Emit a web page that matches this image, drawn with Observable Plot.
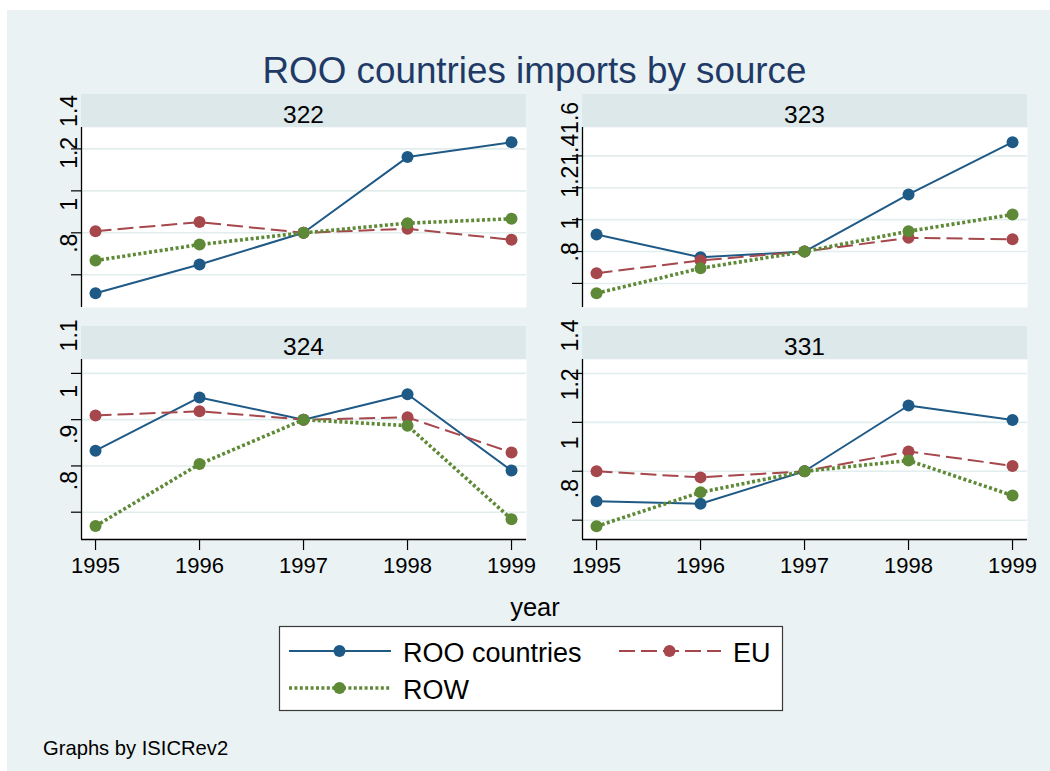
<!DOCTYPE html>
<html>
<head>
<meta charset="utf-8">
<script src="https://cdn.jsdelivr.net/npm/d3@7"></script>
<script src="https://cdn.jsdelivr.net/npm/@observablehq/plot@0.6"></script>
<style>
  body { margin: 0; background: #fff; }
  #page { position: relative; width: 1050px; height: 771px; overflow: hidden; font-family: "Liberation Sans", Arial, sans-serif; }
  #page > svg { position: absolute; overflow: visible; }
</style>
</head>
<body>
<div id="page"></div>
<script>
// Years on the x axis and the three import sources
const years = [1995, 1996, 1997, 1998, 1999];
const sources = ["ROO countries", "EU", "ROW"];
const industries = ["322", "323", "324", "331"];

// Imports by source, indexed to 1997 = 1, per ISIC Rev.2 industry
const roo322 = [0.712, 0.849, 1, 1.361, 1.432];
const eu322  = [1.008, 1.051, 1, 1.019, 0.967];
const row322 = [0.868, 0.944, 1, 1.046, 1.067];

const roo323 = [1.107, 0.964, 1, 1.358, 1.686];
const eu323  = [0.864, 0.944, 1, 1.086, 1.077];
const row323 = [0.738, 0.895, 1, 1.127, 1.232];

const roo324 = [0.933, 1.048, 1, 1.055, 0.890];
const eu324  = [1.009, 1.018, 1, 1.005, 0.929];
const row324 = [0.770, 0.904, 1, 0.987, 0.785];

const roo331 = [0.877, 0.867, 1, 1.269, 1.210];
const eu331  = [1.000, 0.975, 1, 1.081, 1.022];
const row331 = [0.775, 0.914, 1, 1.044, 0.901];

// y tick values per panel
const ticks322 = [0.8, 1, 1.2, 1.4];
const ticks323 = [0.8, 1, 1.2, 1.4, 1.6];
const ticks324 = [0.8, 0.9, 1, 1.1];
const ticks331 = [0.8, 1, 1.2, 1.4];

// Series appearance
const colors = ["#1f5a87", "#a6474c", "#5e8a37"];
const lineStyles = [
  {dash: null, width: 2},
  {dash: "16,6", width: 2},
  {dash: "3,2.4", width: 3.6}
];

const bg = "#eaf2f3";
const stripFill = "#dce8ea";
const font = "'Liberation Sans', Arial, sans-serif";
const xDomain = [1994.865, 1999.144];

// Stata-style tick labels: drop the leading zero
const fmt = d => String(+d.toFixed(2)).replace(/^0\./, ".");

const panels = [
  {id: industries[0], series: [roo322, eu322, row322], ticks: ticks322, yDomain: [0.644, 1.502], left: 30, top: 94, xAxis: false},
  {id: industries[1], series: [roo323, eu323, row323], ticks: ticks323, yDomain: [0.649, 1.778], left: 531, top: 94, xAxis: false},
  {id: industries[2], series: [roo324, eu324, row324], ticks: ticks324, yDomain: [0.741, 1.130], left: 30, top: 326, xAxis: true},
  {id: industries[3], series: [roo331, eu331, row331], ticks: ticks331, yDomain: [0.721, 1.457], left: 531, top: 326, xAxis: true}
];

const W = 500, mL = 51, mR = 4, mT = 33, frameH = 180;
const page = document.getElementById("page");

// Backdrop: graph region, title, panel strips, axis title, legend, note
const back = d3.create("svg").attr("width", 1050).attr("height", 771)
  .style("left", "0px").style("top", "0px").style("font-family", font);

back.append("rect").attr("x", 7).attr("y", 10).attr("width", 1043).attr("height", 761).attr("fill", bg);

back.append("text").attr("x", 534.5).attr("y", 82.5).attr("text-anchor", "middle")
  .attr("font-size", 36.8).attr("fill", "#1f3a66").text("ROO countries imports by source");

for (const p of panels) {
  const x0 = p.left + mL, w = W - mL - mR;
  back.append("rect").attr("x", x0).attr("y", p.top).attr("width", w).attr("height", mT).attr("fill", stripFill);
  back.append("text").attr("x", x0 + w / 2).attr("y", p.top + 29.3).attr("text-anchor", "middle")
    .attr("font-size", 24.5).attr("fill", "#000").text(p.id);
}

back.append("text").attr("x", 535).attr("y", 616).attr("text-anchor", "middle")
  .attr("font-size", 25.5).attr("fill", "#000").text("year");

// Legend
const lg = back.append("g");
lg.append("rect").attr("x", 279.5).attr("y", 626.5).attr("width", 503).attr("height", 84)
  .attr("fill", "#fff").attr("stroke", "#3a3a3a").attr("stroke-width", 1.2);
const legendPos = [{x: 289, y: 651, tx: 403}, {x: 619, y: 651, tx: 733}, {x: 289, y: 688, tx: 403}];
sources.forEach((s, k) => {
  const L = legendPos[k];
  lg.append("line").attr("x1", L.x).attr("x2", L.x + 102).attr("y1", L.y).attr("y2", L.y)
    .attr("stroke", colors[k]).attr("stroke-width", lineStyles[k].width)
    .attr("stroke-dasharray", lineStyles[k].dash);
  lg.append("circle").attr("cx", L.x + 50.5).attr("cy", L.y).attr("r", 6).attr("fill", colors[k]);
  lg.append("text").attr("x", L.tx).attr("y", L.y + 11).attr("font-size", 27)
    .attr("fill", "#000").text(s);
});

back.append("text").attr("x", 43).attr("y", 755).attr("font-size", 20.2).attr("fill", "#000").text("Graphs by ISICRev2");

page.appendChild(back.node());

// One Plot chart per industry, each with its own y scale
for (const p of panels) {
  const rows = [];
  p.series.forEach((vals, k) => vals.forEach((v, i) => rows.push({source: sources[k], year: years[i], value: v})));

  const marks = [
    Plot.frame({fill: "#fff", stroke: null}),
    Plot.gridY(p.ticks, {stroke: "#e2eded", strokeOpacity: 1, strokeWidth: 1.6}),
    Plot.axisY({ticks: p.ticks, tickSize: 10, tickFormat: () => "", label: null, stroke: "#000", strokeWidth: 1.2}),
    Plot.text(p.ticks, {
      y: d => d, text: fmt, frameAnchor: "left", rotate: -90,
      textAnchor: "start", lineAnchor: "bottom", dx: -5, dy: -22, fontSize: 23, fill: "#000"
    }),
    Plot.ruleX([xDomain[0]], {stroke: "#000", strokeWidth: 1.3})
  ];
  if (p.xAxis) {
    marks.push(
      Plot.ruleY([p.yDomain[0]], {stroke: "#000", strokeWidth: 1.3}),
      Plot.axisX({ticks: years, tickSize: 11, tickPadding: 7, tickFormat: "d", label: null,
                  fontSize: 22, stroke: "#000", strokeWidth: 1.2, fill: "#000"})
    );
  }
  sources.forEach((s, k) => {
    const d = rows.filter(r => r.source === s);
    marks.push(
      Plot.line(d, {x: "year", y: "value", stroke: colors[k], strokeWidth: lineStyles[k].width,
                    strokeDasharray: lineStyles[k].dash, strokeLinejoin: "round", strokeLinecap: "butt"}),
      Plot.dot(d, {x: "year", y: "value", r: 6, fill: colors[k], stroke: null})
    );
  });

  const mB = p.xAxis ? 45 : 0;
  const chart = Plot.plot({
    width: W,
    height: mT + frameH + mB,
    marginLeft: mL, marginRight: mR, marginTop: mT, marginBottom: mB,
    x: {domain: xDomain, axis: null},
    y: {domain: p.yDomain, axis: null},
    style: {background: "transparent", fontFamily: font, fontSize: "22px", color: "#000", overflow: "visible"},
    marks
  });
  chart.style.position = "absolute";
  chart.style.left = p.left + "px";
  chart.style.top = p.top + "px";
  chart.style.maxWidth = "none";
  page.appendChild(chart);
}
</script>
</body>
</html>
